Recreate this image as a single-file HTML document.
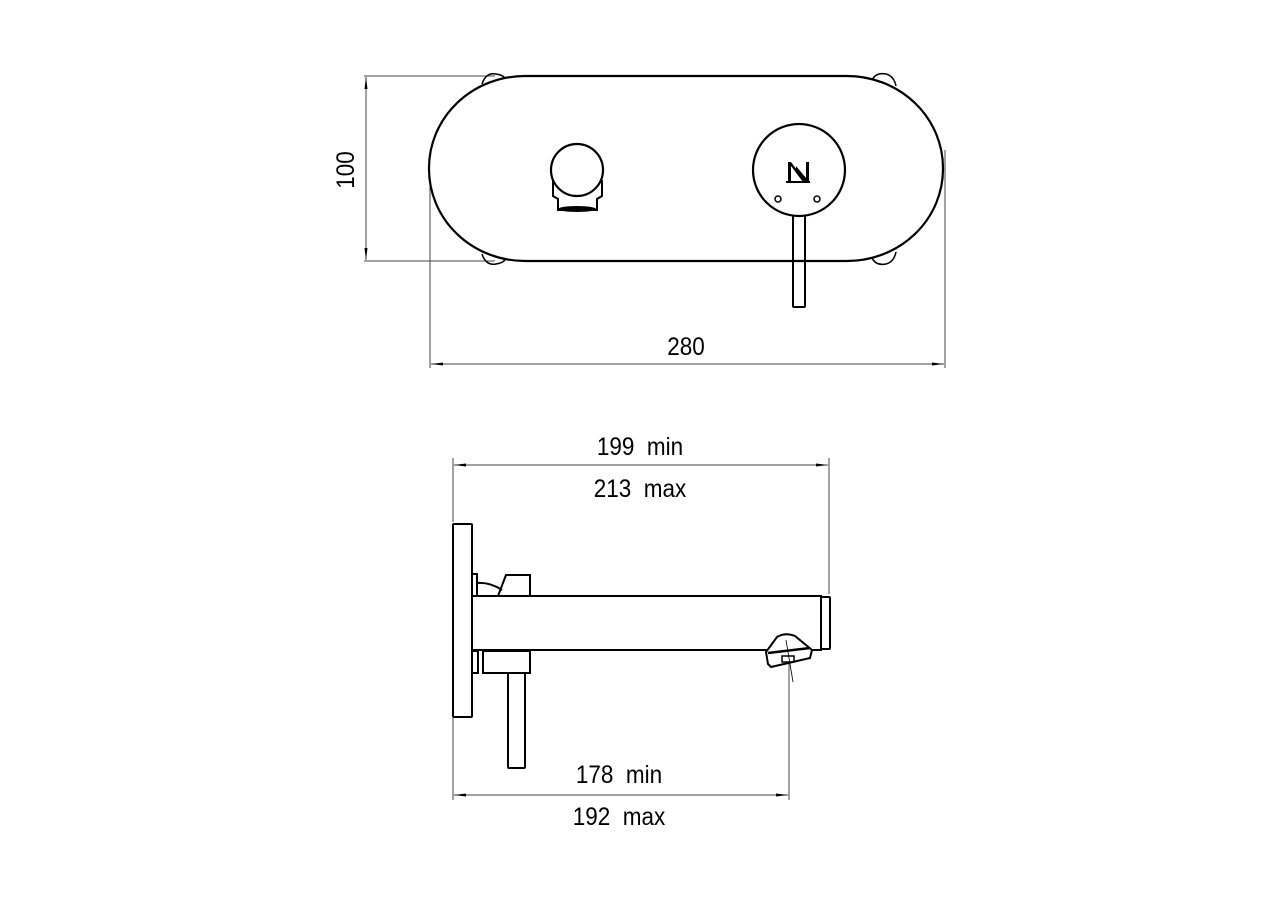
<!DOCTYPE html>
<html><head><meta charset="utf-8"><style>
html,body{margin:0;padding:0;background:#fff;}
svg{display:block}
text{font-family:"Liberation Sans",sans-serif;fill:#000;white-space:pre;}
</style></head><body>
<svg width="1280" height="900" viewBox="0 0 1280 900" xmlns="http://www.w3.org/2000/svg">
<defs>
<marker id="a" viewBox="0 0 12 6" refX="12" refY="3" markerWidth="12" markerHeight="6" orient="auto-start-reverse" markerUnits="userSpaceOnUse"><path d="M0,1.5 L12,3 L0,4.5 Z" fill="#000"/></marker>
</defs>
<g fill="none" stroke="#000">
<g stroke-width="1" stroke="#444">
<line x1="364" y1="76" x2="495" y2="76"/>
<line x1="364" y1="261" x2="495" y2="261"/>
<line x1="366" y1="77" x2="366" y2="260" marker-start="url(#a)" marker-end="url(#a)"/>
<line x1="430" y1="175" x2="430" y2="368"/>
<line x1="945" y1="150" x2="945" y2="368"/>
<line x1="431" y1="364" x2="944" y2="364" marker-start="url(#a)" marker-end="url(#a)"/>
</g>
<g stroke-width="1.5">
<path d="M482,84 Q486,72 496,74 Q504,75 506,80"/>
<path d="M872,80 Q876,72 886,74 Q894,76 896,86"/>
<path d="M482,254 Q486,266 496,264 Q504,263 506,258"/>
<path d="M872,258 Q876,266 886,264 Q894,262 896,252"/>
</g>
<rect x="429" y="76" width="514" height="185" rx="96" ry="92" stroke-width="2.2" fill="#fff"/>
<path d="M553,180 L553,196 L558,199 L558,210 L597,210 L597,199 L602,196 L602,180" stroke-width="2"/>
<ellipse cx="577" cy="209" rx="19" ry="3" fill="#000" stroke="none"/>
<circle cx="577" cy="170" r="26" stroke-width="2.2" fill="#fff"/>
<rect x="793" y="215" width="12" height="92" rx="1" stroke-width="2"/>
<circle cx="799" cy="170" r="46" stroke-width="2.2" fill="#fff"/>
<circle cx="778" cy="199" r="3" stroke-width="1.5"/>
<circle cx="817" cy="199" r="3" stroke-width="1.5"/>
</g>
<g fill="#000">
<rect x="788" y="162" width="3" height="20"/>
<path d="M791,162 L806,182 L803,182 L791,166Z"/>
<path d="M796,166 L806,178 L806,182 L796,170Z"/>
<rect x="806" y="162" width="3" height="20"/>
<rect x="786" y="181" width="24" height="2"/>
</g>
<text x="0" y="0" font-size="25" transform="translate(354,170) rotate(-90) scale(0.9,1)" text-anchor="middle">100</text>
<text x="0" y="0" font-size="25" transform="translate(686,355) scale(0.9,1)" text-anchor="middle">280</text>

<g fill="none" stroke="#000">
<g stroke-width="1" stroke="#444">
<line x1="453" y1="458" x2="453" y2="522"/>
<line x1="829" y1="458" x2="829" y2="594"/>
<line x1="454" y1="465" x2="828" y2="465" marker-start="url(#a)" marker-end="url(#a)"/>
<line x1="453" y1="718" x2="453" y2="800"/>
<line x1="789" y1="655" x2="789" y2="800"/>
<line x1="454" y1="795" x2="788" y2="795" marker-start="url(#a)" marker-end="url(#a)"/>
</g>
<g stroke-width="2">
<rect x="453" y="524" width="19" height="193" rx="1"/>
<rect x="472" y="596" width="349" height="54"/>
<rect x="821" y="597" width="9" height="52" rx="1"/>
<rect x="472" y="574" width="5" height="22"/>
<path d="M477,596 L477,583 Q490,582 502,590"/>
<path d="M498,596 L506,575 L530,575 L530,596"/>
<rect x="472" y="651" width="6" height="22"/>
<rect x="483" y="651" width="47" height="22"/>
<rect x="508" y="673" width="17" height="95" rx="1"/>
<path d="M766,652 L777,637 Q785,632 795,636 L812,650 L810,658 L771,667 L768,664 Z" fill="#fff"/>
<path d="M768,653 L810,648" stroke-width="2.5"/>
<rect x="782" y="656" width="12" height="6" stroke-width="1.5"/>
</g>
<line x1="786" y1="640" x2="793" y2="682" stroke-width="0.8"/>
</g>
<text x="0" y="0" font-size="25" transform="translate(640,455) scale(0.9,1)" text-anchor="middle">199  min</text>
<text x="0" y="0" font-size="25" transform="translate(640,497) scale(0.9,1)" text-anchor="middle">213  max</text>
<text x="0" y="0" font-size="25" transform="translate(619,783) scale(0.9,1)" text-anchor="middle">178  min</text>
<text x="0" y="0" font-size="25" transform="translate(619,825) scale(0.9,1)" text-anchor="middle">192  max</text>
</svg>
</body></html>
